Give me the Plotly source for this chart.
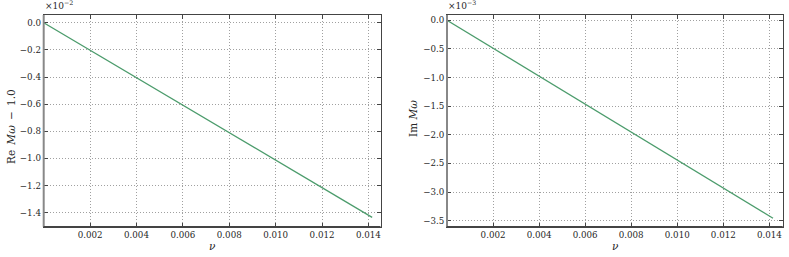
import plotly.graph_objects as go

# Data
nu = [0.0, 0.002, 0.004, 0.006, 0.008, 0.010, 0.012, 0.01416]
re_shift = [0.0, -0.202, -0.404, -0.606, -0.809, -1.011, -1.213, -1.434]   # x1e-2
im_vals = [0.0, -0.489, -0.978, -1.467, -1.956, -2.445, -2.934, -3.458]     # x1e-3

x_ticks = [0.002, 0.004, 0.006, 0.008, 0.010, 0.012, 0.014]
y1_ticks = [0.0, -0.2, -0.4, -0.6, -0.8, -1.0, -1.2, -1.4]
y2_ticks = [0.0, -0.5, -1.0, -1.5, -2.0, -2.5, -3.0, -3.5]

W, H = 789, 257
FONT = "DejaVu Serif"
TXT = "#262626"
LINE = "#4c9c6c"

def fx(px):
    return px / W

def fy(py):
    return 1 - py / H

fig = go.Figure()
fig.add_trace(go.Scatter(x=nu, y=re_shift, mode="lines", line=dict(color=LINE, width=1.3),
                         xaxis="x", yaxis="y", showlegend=False))
fig.add_trace(go.Scatter(x=nu, y=im_vals, mode="lines", line=dict(color=LINE, width=1.3),
                         xaxis="x2", yaxis="y2", showlegend=False))

top, bot = 15, 226.7
panels = [(43.7, 380.5), (447, 782.7)]

common_ax = dict(showline=True, linecolor="#444444", linewidth=1, mirror="ticks",
                 ticks="inside", ticklen=4, tickcolor="#444444",
                 showgrid=True, gridcolor="#a0a0a0", griddash="1px,2px", gridwidth=1,
                 zeroline=False, tickfont=dict(family=FONT, size=8.7, color=TXT))

fig.update_layout(
    width=W, height=H, margin=dict(l=0, r=0, t=0, b=0),
    paper_bgcolor="white", plot_bgcolor="white",
    xaxis=dict(domain=[fx(panels[0][0]), fx(panels[0][1])], range=[0, 0.01452],
               tickvals=x_ticks, ticktext=[f"{v:.3f}" for v in x_ticks], anchor="y", **common_ax),
    yaxis=dict(domain=[fy(bot), fy(top)], range=[-1.503, 0.057],
               tickvals=y1_ticks, ticktext=[f"{v:.1f}".replace("-", "−") for v in y1_ticks],
               anchor="x", **common_ax),
    xaxis2=dict(domain=[fx(panels[1][0]), fx(panels[1][1])], range=[0, 0.01458],
                tickvals=x_ticks, ticktext=[f"{v:.3f}" for v in x_ticks], anchor="y2", **common_ax),
    yaxis2=dict(domain=[fy(bot), fy(top)], range=[-3.605, 0.092],
                tickvals=y2_ticks, ticktext=[f"{v:.1f}".replace("-", "−") for v in y2_ticks],
                anchor="x2", **common_ax),
)

# thicker left/bottom spines
for (l, r) in panels:
    fig.add_shape(type="line", xref="paper", yref="paper", x0=fx(l), x1=fx(l), y0=fy(bot), y1=fy(top),
                  line=dict(color="#888888", width=2))
    fig.add_shape(type="line", xref="paper", yref="paper", x0=fx(l), x1=fx(r), y0=fy(bot), y1=fy(bot),
                  line=dict(color="#444444", width=1.5))

ann_font = dict(family=FONT, size=10.5, color=TXT)
off_font = dict(family=FONT, size=9, color=TXT)
# offset texts
fig.add_annotation(text="×10<sup>−2</sup>", x=fx(43), y=fy(13), xref="paper", yref="paper",
                   xanchor="left", yanchor="bottom", showarrow=False, font=off_font)
fig.add_annotation(text="×10<sup>−3</sup>", x=fx(446), y=fy(13), xref="paper", yref="paper",
                   xanchor="left", yanchor="bottom", showarrow=False, font=off_font)
# y labels
fig.add_annotation(text="Re\u2002<i>Mω</i>\u2002−\u20021.0", x=fx(11), y=fy(127), xref="paper", yref="paper",
                   xanchor="center", yanchor="middle", textangle=-90, showarrow=False, font=ann_font)
fig.add_annotation(text="Im <i>Mω</i>", x=fx(413), y=fy(119), xref="paper", yref="paper",
                   xanchor="center", yanchor="middle", textangle=-90, showarrow=False, font=ann_font)
# x labels
fig.add_annotation(text="<i>ν</i>", x=fx(212), y=fy(246), xref="paper", yref="paper",
                   xanchor="center", yanchor="middle", showarrow=False, font=ann_font)
fig.add_annotation(text="<i>ν</i>", x=fx(615), y=fy(246), xref="paper", yref="paper",
                   xanchor="center", yanchor="middle", showarrow=False, font=ann_font)

fig.write_html("out.html", config={"displayModeBar": False},
               post_script="document.body.style.margin='0';document.body.style.overflow='hidden';")
